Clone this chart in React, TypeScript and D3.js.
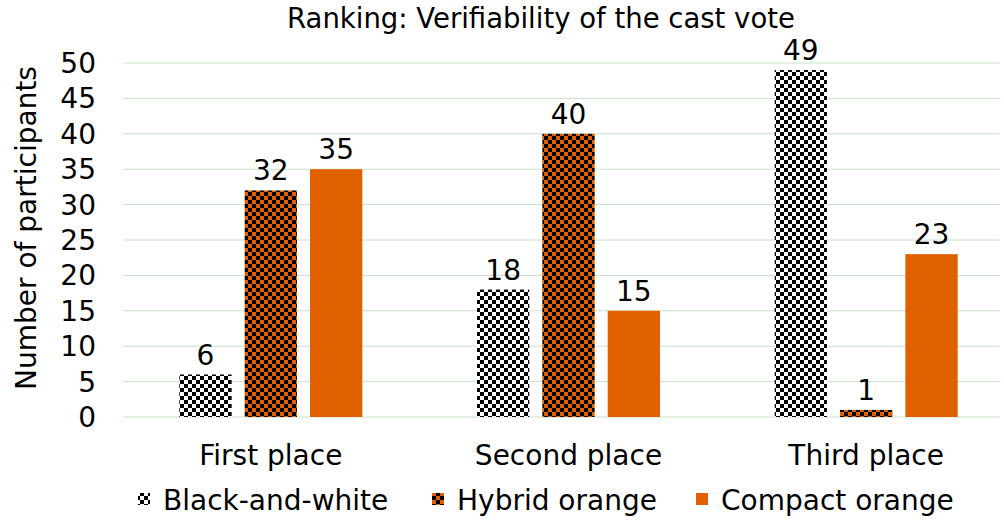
import React from 'react'
import * as d3 from 'd3'

const categories = ['First place', 'Second place', 'Third place']
const seriesNames = ['Black-and-white', 'Hybrid orange', 'Compact orange']
const blackWhite = [6, 18, 49]
const hybridOrange = [32, 40, 1]
const compactOrange = [35, 15, 23]
const yTicks = [0, 5, 10, 15, 20, 25, 30, 35, 40, 45, 50]

const ORANGE = '#e06000'
const FONT = '"DejaVu Sans", Verdana, sans-serif'

export default function App() {
  const width = 1004, height = 520
  const top = 63, bottom = 417

  const x = d3.scaleBand().domain(categories).range([122, 1015])
  const inner = d3.scaleBand().domain(seriesNames).range([0, 183]).paddingInner(0.2)
  const y = d3.scaleLinear().domain([0, 50]).range([bottom, top])

  const values = [blackWhite, hybridOrange, compactOrange]
  const fills = ['url(#bw)', 'url(#hy)', ORANGE]

  return (
    <svg width={width} height={height} style={{ position: 'absolute', left: 0, top: 0 }}
      fontFamily={FONT}>
      <defs>
        <pattern id="bw" width={8} height={8} patternUnits="userSpaceOnUse">
          <rect width={8} height={8} fill="#fff" />
          <rect width={4} height={4} fill="#000" />
          <rect x={4} y={4} width={4} height={4} fill="#000" />
        </pattern>
        <pattern id="hy" width={8} height={8} patternUnits="userSpaceOnUse">
          <rect width={8} height={8} fill={ORANGE} />
          <rect width={4} height={4} fill="#000" />
          <rect x={4} y={4} width={4} height={4} fill="#000" />
        </pattern>
      </defs>
      <rect width={width} height={height} fill="#fff" />
      <text x={541} y={28} textAnchor="middle" fontSize={27.5} fill="#000">
        Ranking: Verifiability of the cast vote
      </text>
      {yTicks.map(t => (
        <g key={t}>
          <line x1={123} x2={1000} y1={y(t)} y2={y(t)} stroke="#c8e0c8" strokeWidth={1} />
          <text x={96} y={y(t)} dy="0.36em" textAnchor="end" fontSize={28}>{t}</text>
        </g>
      ))}
      <text transform={`translate(36,${(top + bottom) / 2 - 12}) rotate(-90)`} textAnchor="middle"
        fontSize={28}>Number of participants</text>
      {categories.map((c, i) => {
        const gx = x(c)! + (x.bandwidth() - 183) / 2
        return (
          <g key={c}>
            {seriesNames.map((s, j) => {
              const v = values[j][i]
              const bx = gx + inner(s)!
              return (
                <g key={s}>
                  <rect x={bx} y={y(v)} width={inner.bandwidth()} height={bottom - y(v)} fill={fills[j]} />
                  <text x={bx + inner.bandwidth() / 2} y={y(v) - 10} textAnchor="middle" fontSize={28}>{v}</text>
                </g>
              )
            })}
            <text x={x(c)! + x.bandwidth() / 2} y={465} textAnchor="middle" fontSize={28}>{c}</text>
          </g>
        )
      })}
      {seriesNames.map((s, j) => {
        const lx = [138, 432, 696][j]
        return (
          <g key={s}>
            <rect x={lx} y={493} width={12} height={12} fill={fills[j]} />
            <text x={lx + 25} y={500} dy="0.36em" fontSize={28}>{s}</text>
          </g>
        )
      })}
    </svg>
  )
}
